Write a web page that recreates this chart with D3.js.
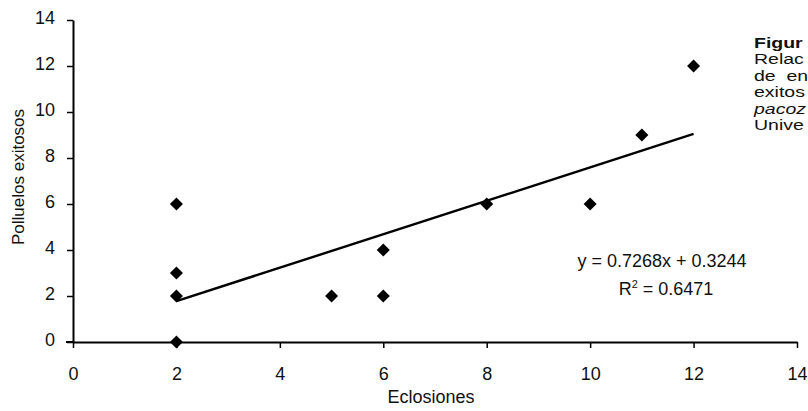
<!DOCTYPE html>
<html>
<head>
<meta charset="utf-8">
<title>Eclosiones vs polluelos</title>
<script src="https://cdn.jsdelivr.net/npm/d3@7"></script>
<style>
	body{margin:0;background:#fff;}
	svg text{font-family:"Liberation Sans",Arial,Helvetica,sans-serif;fill:#111;}
</style>
</head>
<body>
<script>
// datos
var eclosiones=[2,2,2,2,5,6,6,8,10,11,12];
var polluelos=[0,2,3,6,2,2,4,6,6,9,12];
var xTicks=[0,2,4,6,8,10,12,14];
var yTicks=[0,2,4,6,8,10,12,14];
var pendiente=0.7268, intercepto=0.3244, r2=0.6471;
var rangoTendencia=[2,12];
var leyenda=["Figur","Relac","de  en","exitos","pacoz","Unive"];

var width=808, height=411;
var svg=d3.select("body").append("svg")
	.attr("width",width).attr("height",height);

var x=d3.scaleLinear().domain([0,14]).range([73,797]);
var y=d3.scaleLinear().domain([0,14]).range([342,20]);

// ejes
var xAxis=svg.append("g").attr("transform","translate(0,"+y(0)+")")
	.call(d3.axisBottom(x).tickValues(xTicks).tickSize(6).tickPadding(19).tickSizeOuter(0));
var yAxis=svg.append("g").attr("transform","translate("+x(0)+",0)")
	.call(d3.axisLeft(y).tickValues(yTicks).tickSize(6).tickPadding(12).tickSizeOuter(0));
[xAxis,yAxis].forEach(function(a){
	a.select(".domain").attr("stroke","#000").attr("stroke-width",2);
	a.selectAll(".tick line").attr("stroke","#000").attr("stroke-width",1.5);
	a.selectAll(".tick text").attr("font-size",18).attr("fill","#111")
		.style("font-family","'Liberation Sans',Arial,sans-serif");
});
yAxis.selectAll(".tick text").attr("dy","0.2em");
// x axis starts a bit left of the y axis
svg.append("line").attr("x1",x(0)-7).attr("x2",x(0)).attr("y1",y(0)).attr("y2",y(0))
	.attr("stroke","#000").attr("stroke-width",2);

// titulos de ejes
svg.append("text").attr("x",431).attr("y",403).attr("text-anchor","middle")
	.attr("font-size",18).text("Eclosiones");
svg.append("text").attr("transform","translate(24,177) rotate(-90)")
	.attr("text-anchor","middle").attr("font-size",17).text("Polluelos exitosos");

// linea de tendencia
svg.append("line")
	.attr("x1",x(rangoTendencia[0])).attr("y1",y(pendiente*rangoTendencia[0]+intercepto))
	.attr("x2",x(rangoTendencia[1])).attr("y2",y(pendiente*rangoTendencia[1]+intercepto))
	.attr("stroke","#000").attr("stroke-width",2.4);

// puntos
var puntos=eclosiones.map(function(d,i){return {x:d,y:polluelos[i]};});
svg.selectAll(".pt").data(puntos).enter().append("path")
	.attr("class","pt")
	.attr("d",d3.symbol().type(d3.symbolSquare).size(85))
	.attr("transform",function(d){return "translate("+x(d.x)+","+y(d.y)+") rotate(45)";})
	.attr("fill","#000");

// ecuacion
svg.append("text").attr("x",662).attr("y",267).attr("text-anchor","middle")
	.attr("font-size",18).text("y = "+pendiente+"x + "+intercepto);
var rt=svg.append("text").attr("x",666).attr("y",295).attr("text-anchor","middle").attr("font-size",18);
rt.append("tspan").text("R");
rt.append("tspan").attr("font-size",11).attr("dy",-7).text("2");
rt.append("tspan").attr("dy",7).text(" = "+r2);

// texto de la figura (cortado por el borde)
var cap=svg.append("g").attr("transform","translate(754,0) scale(1.3,1)");
cap.selectAll(".cap").data(leyenda).enter().append("text")
	.attr("class","cap")
	.attr("x",0).attr("y",function(d,i){return 48+i*16.5;})
	.attr("font-size",15)
	.attr("font-weight",function(d,i){return i==0?"bold":"normal";})
	.attr("font-style",function(d,i){return i==4?"italic":"normal";})
	.style("white-space","pre")
	.text(function(d){return d;});
</script>
</body>
</html>
